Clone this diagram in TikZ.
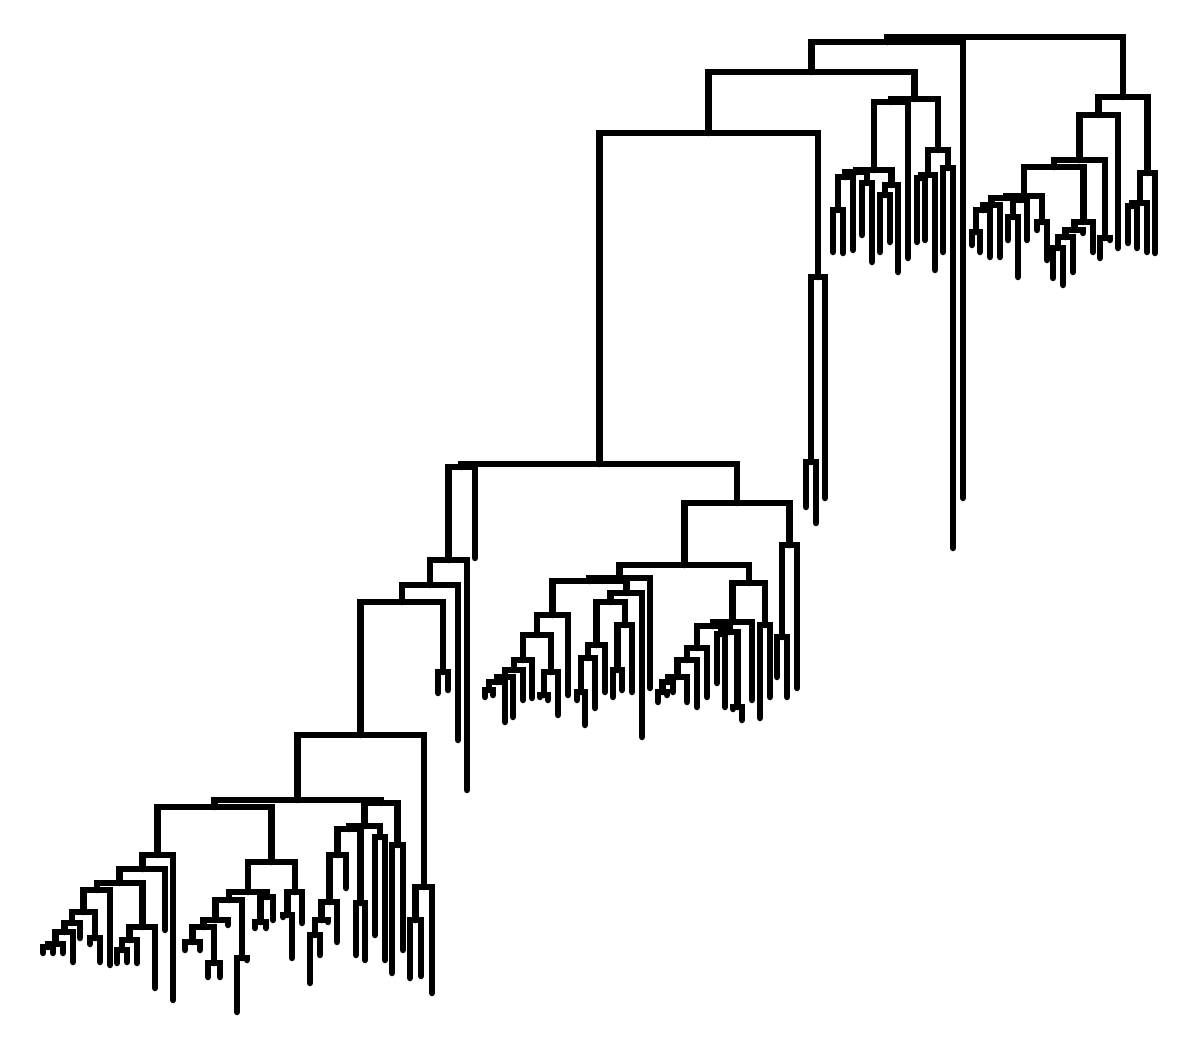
\documentclass[tikz,border=0pt]{standalone}
\usetikzlibrary{calc}
\tikzset{br/.style={draw=black, line width=6.5pt, line cap=round, line join=miter}}
\newcommand\lf[3]{\coordinate (#1) at (#2,#3);}
\newcommand\jn[4]{%
  \path let \p1=(#2), \p2=(#3) in coordinate (#1) at ({(\x1+\x2)/2},{-#4pt});
  \draw[br] (#2) |- (#1) -| (#3);}
\begin{document}
\begin{tikzpicture}[x=1pt,y=-1pt]
\fill[white] (0,0) rectangle (1200,1050);
\useasboundingbox (0,0) rectangle (1200,1050);
% ---------- lower-left cluster ----------
\lf{l1}{43}{953}\lf{l2}{53}{953}\jn{l12}{l1}{l2}{947}
\lf{l3}{63}{953}\jn{l123}{l12}{l3}{944}
\lf{l4}{73}{962}\jn{l1234}{l123}{l4}{932}
\lf{l5}{80}{938}\jn{l70}{l1234}{l5}{923}
\lf{l6}{90}{944}\lf{l7}{100}{962}\jn{l67}{l6}{l7}{938}
\jn{l83}{l70}{l67}{912}
\lf{l8}{110}{965}\jn{l95}{l83}{l8}{890}
\lf{l9}{117}{963}\lf{l10}{127}{962}\jn{l910}{l9}{l10}{950}
\lf{l11}{137}{963}\jn{lq}{l910}{l11}{940}
\lf{l12x}{155}{988}\jn{l147}{lq}{l12x}{927}
\jn{l120}{l95}{l147}{883}
\lf{l13}{165}{930}\jn{l142}{l120}{l13}{869}
\lf{l14}{173}{1000}\jn{l157}{l142}{l14}{855}
\lf{r1}{185}{950}\lf{r2}{200}{950}\jn{r12}{r1}{r2}{942}
\lf{r3}{208}{977}\lf{r4}{220}{977}\jn{r34}{r3}{r4}{963}
\jn{r203}{r12}{r34}{927}
\lf{r5}{228}{925}\jn{r214}{r203}{r5}{920}
\lf{r6}{237}{1012}\lf{r7}{247}{960}\jn{r242}{r6}{r7}{958}
\jn{r228}{r214}{r242}{900}
\lf{r8}{255}{928}\lf{r9}{266}{928}\jn{r89}{r8}{r9}{922}
\lf{r10}{273}{920}\jn{r267}{r89}{r10}{897}
\jn{r247}{r228}{r267}{892}
\lf{r11}{283}{917}\lf{r12x}{292}{958}\jn{r1112}{r11}{r12x}{915}
\lf{r13}{302}{923}\jn{r297}{r1112}{r13}{892}
\jn{r270}{r247}{r297}{862}
\jn{p1l}{l157}{r270}{807}
\lf{xl1}{310}{983}\lf{xl2}{320}{955}\jn{xn1}{xl1}{xl2}{935}
\lf{xl3}{328}{922}\jn{xn2}{xn1}{xl3}{920}
\lf{xl4}{337}{942}\jn{xn3}{xn2}{xl4}{902}
\lf{xl5}{346}{888}\jn{xn4}{xn3}{xl5}{855}
\lf{xl6}{356}{955}\lf{xl7}{365}{960}\jn{xn5}{xl6}{xl7}{903}
\jn{xn6}{xn4}{xn5}{829}
\lf{xl8}{375}{935}\lf{xl9}{385}{960}\jn{xn7}{xl8}{xl9}{837}
\jn{xn8}{xn6}{xn7}{826}
\lf{xl10}{392}{973}\lf{xl11}{403}{950}\jn{xn9}{xl10}{xl11}{845}
\jn{p1r}{xn8}{xn9}{803}
\jn{p1}{p1l}{p1r}{800}
\lf{pl1}{410}{978}\lf{pl2}{421}{976}\jn{pn1}{pl1}{pl2}{920}
\lf{pl3}{432}{993}\jn{p2}{pn1}{pl3}{887}
\jn{pp}{p1}{p2}{735}
\lf{ql1}{438}{693}\lf{ql2}{448}{690}\jn{qq}{ql1}{ql2}{672}
\jn{m4}{pp}{qq}{602}
\lf{ml1}{458}{740}\jn{m3}{m4}{ml1}{585}
\lf{ml2}{467}{790}\jn{m2x}{m3}{ml2}{560}
\lf{ml3}{475}{558}\jn{m1}{m2x}{ml3}{467}
% ---------- middle cluster ----------
\lf{a1}{485}{697}\lf{a2}{493}{695}\jn{a12}{a1}{a2}{690}
\lf{a3}{505}{722}\jn{a123}{a12}{a3}{682}
\lf{a4}{513}{717}\jn{a5n}{a123}{a4}{677}
\lf{a5}{523}{700}\jn{a6n}{a5n}{a5}{670}
\lf{a6}{532}{698}\jn{a7n}{a6n}{a6}{660}
\lf{a7}{540}{697}\lf{a8}{548}{700}\jn{a78}{a7}{a8}{695}
\lf{a9}{558}{715}\jn{a789}{a78}{a9}{672}
\jn{a10n}{a7n}{a789}{635}
\lf{a10}{568}{695}\jn{mll}{a10n}{a10}{615}
\lf{e1}{577}{700}\lf{e2}{585}{725}\jn{e12}{e1}{e2}{692}
\lf{e3}{595}{708}\jn{e123}{e12}{e3}{658}
\lf{e4}{605}{692}\jn{e1234}{e123}{e4}{645}
\lf{e5}{613}{697}\lf{e6}{622}{690}\jn{e56}{e5}{e6}{670}
\lf{e7}{632}{692}\jn{e567}{e56}{e7}{625}
\jn{mlr1}{e1234}{e567}{602}
\lf{e8}{642}{737}\jn{mlr}{mlr1}{e8}{593}
\jn{mla}{mll}{mlr}{581}
\lf{e9}{650}{688}\jn{ml}{mla}{e9}{578}
\lf{g1}{658}{702}\lf{g2}{667}{695}\jn{g12}{g1}{g2}{692}
\lf{g3}{673}{692}\jn{g123}{g12}{g3}{682}
\lf{g4}{687}{702}\jn{g1234}{g123}{g4}{677}
\lf{g5}{697}{707}\jn{g5n}{g1234}{g5}{660}
\lf{g6}{707}{697}\jn{mr1c}{g5n}{g6}{648}
\lf{g7}{717}{683}\lf{g8}{725}{707}\jn{g78}{g7}{g8}{634}
\lf{g9}{733}{709}\lf{g10}{742}{720}\jn{g910}{g9}{g10}{707}
\jn{mr1d}{g78}{g910}{632}
\jn{mr1b}{mr1c}{mr1d}{626}
\lf{g11}{752}{700}\jn{mr1}{mr1b}{g11}{622}
\lf{g12x}{760}{718}\lf{g13}{770}{697}\jn{mr2}{g12x}{g13}{625}
\jn{mr}{mr1}{mr2}{583}
\jn{m2l}{ml}{mr}{565}
\lf{g14}{777}{677}\lf{g15}{787}{697}\jn{g1415}{g14}{g15}{637}
\lf{g16}{797}{688}\jn{m2r}{g1415}{g16}{545}
\jn{m2}{m2l}{m2r}{503}
\jn{mm}{m1}{m2}{464}
\lf{n1}{806}{507}\lf{n2}{816}{523}\jn{n12}{n1}{n2}{462}
\lf{n3}{825}{498}\jn{nn}{n12}{n3}{277}
\jn{a11}{mm}{nn}{133}
% ---------- top-middle cluster ----------
\lf{t1}{833}{252}\lf{t2}{843}{253}\jn{t12}{t1}{t2}{210}
\lf{t3}{853}{250}\jn{t123}{t12}{t3}{177}
\lf{t4}{862}{235}\lf{t5}{872}{262}\jn{t45}{t4}{t5}{183}
\jn{ta}{t123}{t45}{172}
\lf{t6}{880}{252}\lf{t7}{890}{242}\jn{t67}{t6}{t7}{195}
\lf{t8}{898}{272}\jn{t678}{t67}{t8}{185}
\jn{tb}{ta}{t678}{170}
\lf{t9}{908}{258}\jn{tc}{tb}{t9}{102}
\lf{t10}{917}{242}\lf{t11}{925}{240}\jn{td1}{t10}{t11}{178}
\lf{t12x}{935}{270}\jn{td}{td1}{t12x}{175}
\lf{t13}{943}{252}\lf{t14}{953}{548}\jn{te}{t13}{t14}{168}
\jn{tf}{td}{te}{150}
\jn{tt}{tc}{tf}{99}
\jn{a1n}{a11}{tt}{72}
\lf{lng}{963}{498}\jn{aa}{a1n}{lng}{42}
% ---------- top-right cluster ----------
\lf{b1}{972}{245}\lf{b2}{980}{252}\jn{b12}{b1}{b2}{232}
\lf{b3}{990}{257}\jn{b123}{b12}{b3}{210}
\lf{b4}{1000}{257}\jn{bL}{b123}{b4}{205}
\lf{b5}{1008}{240}\lf{b6}{1018}{277}\jn{b56}{b5}{b6}{217}
\lf{b7}{1027}{240}\jn{bN}{b56}{b7}{200}
\jn{bLN}{bL}{bN}{198}
\lf{b8}{1037}{230}\lf{b9}{1047}{260}\jn{bR}{b8}{b9}{222}
\jn{c11}{bLN}{bR}{196}
\lf{c1}{1053}{278}\lf{c2}{1063}{285}\jn{c12}{c1}{c2}{248}
\lf{c3}{1073}{272}\jn{c123}{c12}{c3}{237}
\lf{c4}{1083}{233}\jn{c1234}{c123}{c4}{230}
\lf{c5}{1093}{252}\jn{cc12}{c1234}{c5}{222}
\jn{cc1}{c11}{cc12}{167}
\lf{c6}{1100}{258}\lf{c7}{1110}{240}\jn{cc2}{c6}{c7}{238}
\jn{cc}{cc1}{cc2}{160}
\lf{c8}{1118}{248}\jn{cx}{cc}{c8}{115}
\lf{d1}{1128}{243}\lf{d2}{1137}{248}\jn{d12}{d1}{d2}{206}
\lf{d3}{1147}{252}\jn{d123}{d12}{d3}{203}
\lf{d4}{1155}{253}\jn{dd}{d123}{d4}{173}
\jn{bb}{cx}{dd}{97}
\jn{root}{aa}{bb}{37}
\end{tikzpicture}
\end{document}
